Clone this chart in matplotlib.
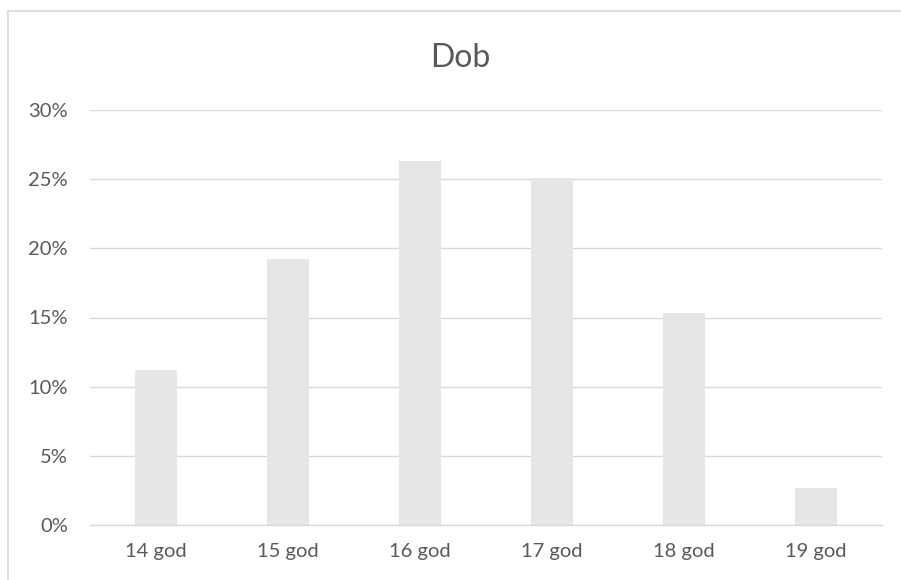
import matplotlib
matplotlib.use('Agg')
import matplotlib.pyplot as plt
from matplotlib.lines import Line2D

# =============================================================================
# Dob: share of respondents by age
# =============================================================================
CATEGORIES = ['14 god', '15 god', '16 god', '17 god', '18 god', '19 god']
SHARES = [11.2, 19.2, 26.3, 25.1, 15.3, 2.7]
Y_TICKS = [0, 5, 10, 15, 20, 25, 30]

TEXT = '#595959'
GRID = '#D9D9D9'
BAR = '#E7E6E6'

plt.rcParams['font.family'] = ['Lato', 'DejaVu Sans']

W, H = 901, 580
fig = plt.figure(figsize=(W / 100, H / 100), dpi=100)
ax = fig.add_axes([90 / W, (H - 525) / H, (882 - 90) / W, (525 - 110) / H])

ax.bar(range(len(CATEGORIES)), SHARES, width=0.32, color=BAR, zorder=3)

ax.set_xlim(-0.5, len(CATEGORIES) - 0.5)
ax.set_ylim(0, 30)
ax.set_yticks(Y_TICKS)
ax.set_yticklabels([f'{v}%' for v in Y_TICKS])
ax.set_xticks(range(len(CATEGORIES)))
ax.set_xticklabels(CATEGORIES)

ax.yaxis.grid(True, color=GRID, linewidth=1.0, zorder=1)
ax.set_axisbelow(True)
for side in ['top', 'right', 'left']:
    ax.spines[side].set_visible(False)
ax.spines['bottom'].set_color(GRID)
ax.spines['bottom'].set_linewidth(1.0)
ax.spines['bottom'].set_zorder(4)

ax.tick_params(axis='both', length=0, colors=TEXT, labelsize=14.5)
ax.tick_params(axis='x', pad=13)
ax.tick_params(axis='y', pad=16)

fig.text(460 / W, (H - 67) / H, 'Dob', ha='center', va='baseline',
         fontsize=23, color=TEXT)

# chart area border (only left and top are inside the picture)
fig.add_artist(Line2D([8 / W, 8 / W], [0, (H - 11) / H], color=GRID,
                      linewidth=1.2, transform=fig.transFigure))
fig.add_artist(Line2D([8 / W, 1], [(H - 11) / H, (H - 11) / H], color=GRID,
                      linewidth=1.2, transform=fig.transFigure))

fig.savefig('out.png', dpi=100, facecolor='white')
